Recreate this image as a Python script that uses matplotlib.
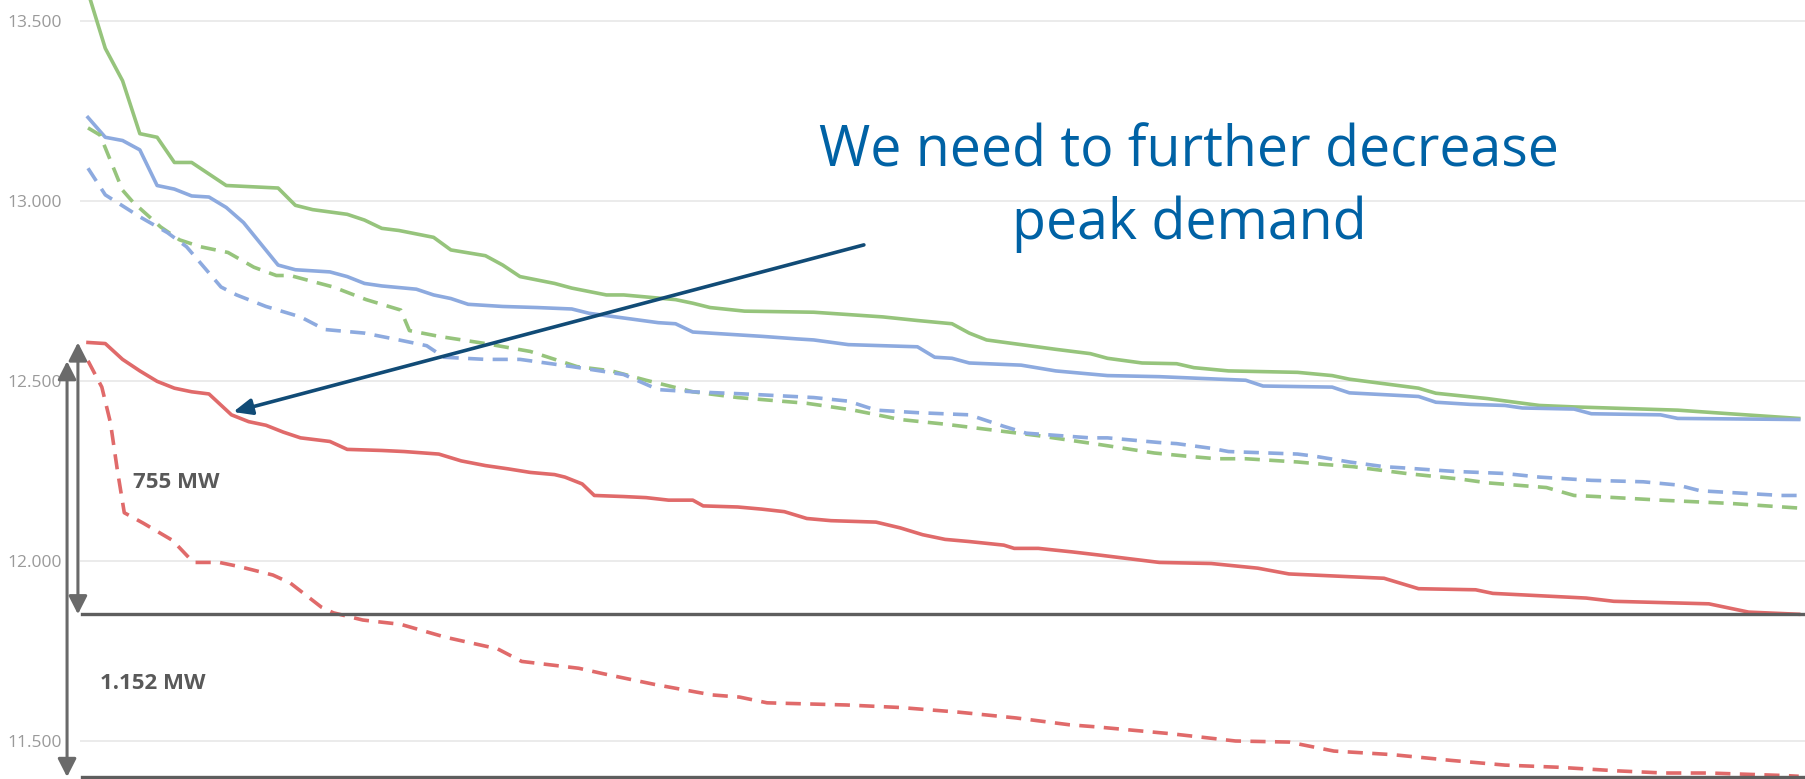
import matplotlib
matplotlib.use("Agg")
import matplotlib.pyplot as plt
from matplotlib.ticker import FuncFormatter

# ---- data (top hours of a load duration curve, MW) ----
green_solid_h = [1, 2, 3, 4, 5, 6, 7, 9, 12, 13, 14, 16, 17, 18, 19, 21, 22, 24, 25, 26,
                 28, 29, 31, 32, 35, 36, 37, 39, 43, 47, 49, 51, 52, 53, 55, 57, 59, 60, 62, 64,
                 65, 67, 71, 73, 74, 78, 79, 82, 85, 87, 93, 96, 100]
green_solid_v = [13580, 13424, 13334, 13187, 13177, 13107, 13107, 13043, 13036, 12988,
                 12976, 12963, 12947, 12924, 12918, 12899, 12864, 12848, 12822, 12790,
                 12771, 12758, 12739, 12739, 12726, 12716, 12704, 12694, 12691, 12678,
                 12668, 12659, 12633, 12614, 12601, 12588, 12576, 12563, 12550, 12548,
                 12537, 12528, 12524, 12515, 12505, 12480, 12466, 12451, 12432, 12428,
                 12419, 12409, 12396]

blue_solid_h = [1, 2, 3, 4, 5, 6, 7, 8, 9, 10, 12, 13, 15, 16, 17, 18, 20, 21, 22, 23,
                25, 27, 29, 30, 32, 34, 35, 36, 38, 40, 42, 43, 45, 47, 49, 50, 51, 52, 55, 57,
                60, 63, 68, 69, 73, 74, 78, 79, 81, 83, 84, 87, 88, 92, 93, 100]
blue_solid_v = [13232, 13177, 13168, 13142, 13043, 13033, 13014, 13011, 12982, 12940,
                12822, 12809, 12803, 12790, 12771, 12764, 12755, 12739, 12729, 12713,
                12707, 12704, 12700, 12688, 12675, 12662, 12659, 12636, 12630, 12624,
                12617, 12614, 12601, 12598, 12595, 12566, 12563, 12550, 12544, 12528,
                12515, 12512, 12502, 12486, 12483, 12467, 12457, 12441, 12435, 12432,
                12425, 12422, 12409, 12406, 12396, 12393]

blue_dash_h = [1, 2, 4, 5.6, 6.7, 8.7, 9.6, 11.3, 13.3, 14.7, 17, 19, 20.6, 21.6, 24, 26,
               29, 32, 34, 36, 39, 43, 45, 46.6, 49, 52, 54, 55.3, 59, 60, 63, 64, 66, 67,
               71, 72, 74, 76, 77, 80, 83, 85, 88, 91, 93, 94.3, 99, 100]
blue_dash_v = [13091, 13017, 12956, 12912, 12873, 12761, 12739, 12707, 12678, 12643,
               12633, 12614, 12598, 12566, 12560, 12560, 12540, 12518, 12476, 12470,
               12464, 12454, 12444, 12419, 12412, 12406, 12374, 12355, 12342, 12342,
               12329, 12326, 12313, 12304, 12297, 12291, 12275, 12262, 12259, 12249,
               12243, 12233, 12224, 12220, 12211, 12195, 12182, 12182]

green_dash_h = [1, 1.7, 3, 3.6, 5.2, 6.3, 7.5, 9.1, 10.6, 11.9, 12.7, 15.2, 17.1, 19.1,
                19.6, 21.3, 24, 26.6, 29.3, 31.3, 33.3, 36, 38.6, 42.6, 45.3, 48, 50.6,
                53.3, 56, 59.6, 62.7, 64.6, 66.3, 68, 71, 72.6, 74.2, 77.3, 80.5, 82, 85.4,
                87, 88.3, 92, 96, 100]
green_dash_v = [13203, 13183, 13030, 12997, 12928, 12892, 12873, 12857, 12816, 12793,
                12793, 12761, 12726, 12697, 12640, 12624, 12604, 12582, 12540, 12528,
                12502, 12470, 12454, 12438, 12419, 12393, 12380, 12364, 12348, 12323,
                12300, 12291, 12284, 12284, 12275, 12268, 12262, 12243, 12227, 12217,
                12204, 12182, 12179, 12169, 12160, 12147]

red_solid_h = [1, 2, 3, 4, 5, 6, 7, 8, 9.3, 10.3, 11.3, 12.3, 13.3, 15, 16, 18, 19.3, 21.3,
               22.6, 24, 25.3, 26.6, 28, 28.6, 29.6, 30.3, 32, 33.3, 34.6, 36, 36.6, 38.6,
               40, 41.3, 42.6, 44, 46.6, 48, 49.3, 50.6, 52, 54, 54.6, 56, 58, 59.6, 63, 66,
               68.7, 70.5, 76, 78, 81.3, 82.3, 87.7, 89.3, 94.8, 97.1, 100]
red_solid_v = [12607, 12604, 12560, 12528, 12499, 12480, 12470, 12464, 12406, 12387,
               12377, 12358, 12342, 12332, 12310, 12307, 12304, 12297, 12278, 12265,
               12256, 12246, 12240, 12233, 12214, 12182, 12179, 12176, 12169, 12169,
               12153, 12150, 12144, 12137, 12118, 12112, 12108, 12092, 12073, 12060,
               12054, 12044, 12035, 12035, 12025, 12016, 11996, 11993, 11980, 11964,
               11952, 11923, 11920, 11910, 11897, 11888, 11881, 11858, 11852]

red_dash_h = [1, 1.8, 2.3, 2.7, 3.1, 4.2, 5.9, 7.1, 8.6, 9.8, 11.7, 12.7, 14.5, 15.2, 16.9,
              19.1, 21.7, 24.7, 26.1, 29.4, 30.9, 33.8, 37.1, 38.7, 40.3, 44.9, 48, 51.4,
              54.7, 57.8, 59.4, 63.7, 67.4, 70.5, 73.1, 76.5, 79.9, 83, 86.1, 89.5, 92.2,
              94.8, 99.2, 100]
red_dash_v = [12556, 12483, 12384, 12252, 12134, 12105, 12057, 11996, 11996, 11984,
              11961, 11939, 11872, 11856, 11836, 11824, 11788, 11756, 11721, 11702,
              11686, 11657, 11628, 11622, 11606, 11600, 11593, 11580, 11564, 11545,
              11539, 11520, 11500, 11497, 11472, 11462, 11446, 11433, 11427, 11417,
              11411, 11411, 11404, 11402]

y_ticks = [11500, 12000, 12500, 13000, 13500]
peak_actual = 12607
peak_dashed = 12555
target_level = 11852
bottom_level = 11400
label_gap_1 = "755 MW"
label_gap_2 = "1.152 MW"
message = "We need to further decrease\npeak demand"

# ---- styling ----
plt.rcParams['font.family'] = ['Open Sans', 'DejaVu Sans']
GREEN = '#96C47C'
BLUE = '#8DAADF'
RED = '#E06A6A'
GRAY = '#6A6A6A'
W, H = 1806, 779
fig = plt.figure(figsize=(W / 100, H / 100), dpi=100)
ax = fig.add_axes([80 / W, 0, 1 - 80 / W, 1])

lw = 2.6
dash = (0, (4.2, 2.6))
ax.plot(green_solid_h, green_solid_v, color=GREEN, lw=lw, zorder=3)
ax.plot(blue_solid_h, blue_solid_v, color=BLUE, lw=lw, zorder=3)
ax.plot(green_dash_h, green_dash_v, color=GREEN, lw=lw, linestyle=dash, zorder=3)
ax.plot(blue_dash_h, blue_dash_v, color=BLUE, lw=lw, linestyle=dash, zorder=3)
ax.plot(red_solid_h, red_solid_v, color=RED, lw=lw, zorder=3)
ax.plot(red_dash_h, red_dash_v, color=RED, lw=lw, linestyle=dash, zorder=3)

ax.set_xlim(1 - 8 / 17.28, 1 + (W - 88) / 17.28)
ax.set_ylim(11394.4, 13558.3)
ax.set_yticks(y_ticks)
ax.yaxis.set_major_formatter(FuncFormatter(lambda v, p: f"{v:,.0f}".replace(",", ".")))
ax.tick_params(axis='y', length=0, pad=13, labelsize=12.5, labelcolor='#9A9A9A')
ax.set_xticks([])
for s in ax.spines.values():
    s.set_visible(False)
ax.grid(axis='y', color='#E8E8E8', lw=1.2, zorder=0)

# horizontal reference lines
ax.axhline(target_level, xmin=0.001, xmax=1, color='#5E5E5E', lw=2.4, zorder=4)
ax.axhline(bottom_level, xmin=0.001, xmax=1, color='#5E5E5E', lw=2.4, zorder=4)

# vertical double arrows (outside the axes, left)
for xf, y0, y1 in [(-0.0012, peak_actual, target_level), (-0.0075, peak_dashed, bottom_level)]:
    ax.annotate('', xy=(xf, y1), xytext=(xf, y0), xycoords=('axes fraction', 'data'),
                textcoords=('axes fraction', 'data'), annotation_clip=False,
                arrowprops=dict(arrowstyle='<|-|>,head_length=0.55,head_width=0.28',
                                color=GRAY, lw=2.2, mutation_scale=20,
                                shrinkA=0, shrinkB=0), zorder=5)

ax.text(3.6, 12219, label_gap_1, fontsize=16, fontweight='bold', color='#595959',
        ha='left', va='center')
ax.text(1.7, 11661, label_gap_2, fontsize=16, fontweight='bold', color='#595959',
        ha='left', va='center')

# message and arrow
ax.annotate('', xy=(9.4, 12414), xytext=(45.9, 12878),
            arrowprops=dict(arrowstyle='-|>,head_length=0.7,head_width=0.3',
                            color='#114B76', lw=2.6, mutation_scale=16,
                            shrinkA=0, shrinkB=0), zorder=6)
fig.text(1189 / W, 1 - 188 / H, message, ha='center', va='center', fontsize=40,
         color='#0062A5', linespacing=1.35)

fig.savefig('out.png', dpi=100)
